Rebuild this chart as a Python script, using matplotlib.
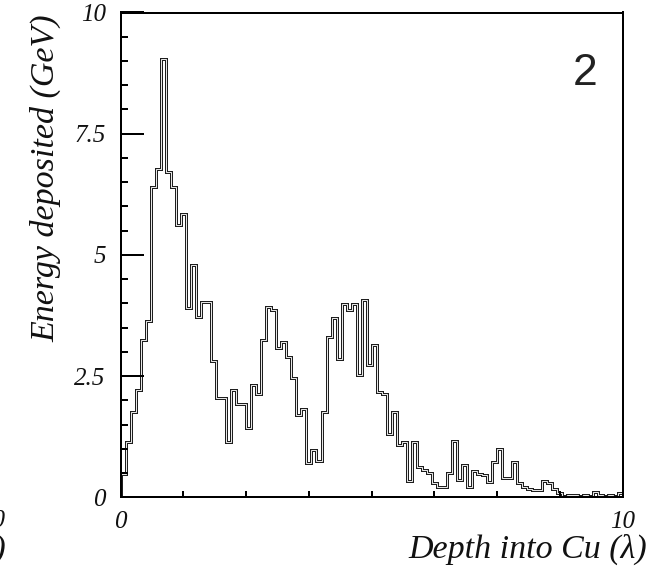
import numpy as np
import matplotlib
matplotlib.use("Agg")
import matplotlib.pyplot as plt
from matplotlib.ticker import MultipleLocator, FixedLocator, FuncFormatter

# Longitudinal shower profile: energy deposited per 0.1 lambda slice of copper
depth_lo, depth_hi, n_bins = 0.0, 10.0, 100
energy_gev = [
    0.49, 1.14, 1.76, 2.21, 3.24, 3.63, 6.40, 6.78, 9.05, 6.71,
    6.40, 5.61, 5.85, 3.91, 4.79, 3.72, 4.03, 4.03, 2.81, 2.04,
    2.04, 1.14, 2.21, 1.92, 1.92, 1.42, 2.31, 2.14, 3.25, 3.93,
    3.87, 3.07, 3.20, 2.90, 2.47, 1.69, 1.83, 0.70, 0.98, 0.75,
    1.76, 3.31, 3.70, 2.86, 3.98, 3.86, 3.98, 2.52, 4.08, 2.72,
    3.14, 2.17, 2.14, 1.31, 1.76, 1.07, 1.14, 0.33, 1.14, 0.62,
    0.57, 0.50, 0.30, 0.21, 0.21, 0.50, 1.16, 0.35, 0.66, 0.21,
    0.55, 0.48, 0.46, 0.32, 0.73, 0.99, 0.39, 0.39, 0.72, 0.30,
    0.21, 0.17, 0.15, 0.16, 0.34, 0.30, 0.18, 0.09, 0.03, 0.04,
    0.04, 0.03, 0.04, 0.03, 0.11, 0.04, 0.03, 0.04, 0.03, 0.08,
]
y_major_ticks = [0, 2.5, 5, 7.5, 10]
x_label_ticks = [0, 10]
panel_tag = "2"

W, H = 656, 572
fig = plt.figure(figsize=(W / 100, H / 100), dpi=100)
px = 72 / 100  # points per pixel

left, right, top, bottom = 120.7, 622.7, 12.5, 497.3
ax = fig.add_axes([left / W, 1 - bottom / H, (right - left) / W, (bottom - top) / H])

edges = np.linspace(depth_lo, depth_hi, n_bins + 1)
# outlined step line with a light core
ax.stairs(energy_gev, edges, color="#1e1e1e", linewidth=3.0 * px, joinstyle="miter")
ax.stairs(energy_gev, edges, color="white", linewidth=0.9 * px, joinstyle="miter")

ax.set_xlim(depth_lo, depth_hi)
ax.set_ylim(0, 10)

serif = ["Liberation Serif", "DejaVu Serif"]
tick_font = dict(family=serif, style="italic", size=18, color="#111111")

ax.yaxis.set_major_locator(FixedLocator(y_major_ticks))
ax.yaxis.set_minor_locator(MultipleLocator(0.5))
ax.yaxis.set_major_formatter(FuncFormatter(lambda v, p: f"{v:g}"))
ax.xaxis.set_major_locator(FixedLocator(x_label_ticks))
ax.xaxis.set_minor_locator(MultipleLocator(1.25))
ax.xaxis.set_major_formatter(FuncFormatter(lambda v, p: f"{v:g}"))

ax.tick_params(axis="y", which="major", direction="in", length=23 * px, width=2 * px,
               pad=15 * px, left=True, right=False)
ax.tick_params(axis="y", which="minor", direction="in", length=7 * px, width=2 * px,
               left=True, right=False)
ax.tick_params(axis="x", which="both", direction="in", length=6 * px, width=2 * px,
               pad=14 * px, bottom=True, top=False)
for lab in ax.get_xticklabels() + ax.get_yticklabels():
    lab.set_fontfamily(serif)
    lab.set_fontstyle("italic")
    lab.set_fontsize(18)
    lab.set_color("#111111")

for sp in ax.spines.values():
    sp.set_linewidth(2 * px)
    sp.set_color("black")

title_font = dict(family=serif, style="italic", size=24.5, color="#111111")
fig.text(45.5 / W, 1 - 14 / H, "Energy deposited (GeV)", rotation=90,
         ha="center", va="top", **title_font)
fig.text(647 / W, 1 - 558 / H, "Depth into Cu (\u03bb)", ha="right", va="baseline",
         **title_font)

fig.text(585 / W, 1 - 85 / H, panel_tag, ha="center", va="baseline",
         family=["Liberation Sans", "DejaVu Sans"], size=32, color="#222222")

# edge of the neighbouring panel's axis labels
fig.text(5.5 / W, 1 - 527 / H, "10", ha="right", va="baseline", **tick_font)
fig.text(6 / W, 1 - 558 / H, "Depth into Cu (\u03bb)", ha="right", va="baseline",
         **title_font)

fig.savefig("out.png", dpi=100)
